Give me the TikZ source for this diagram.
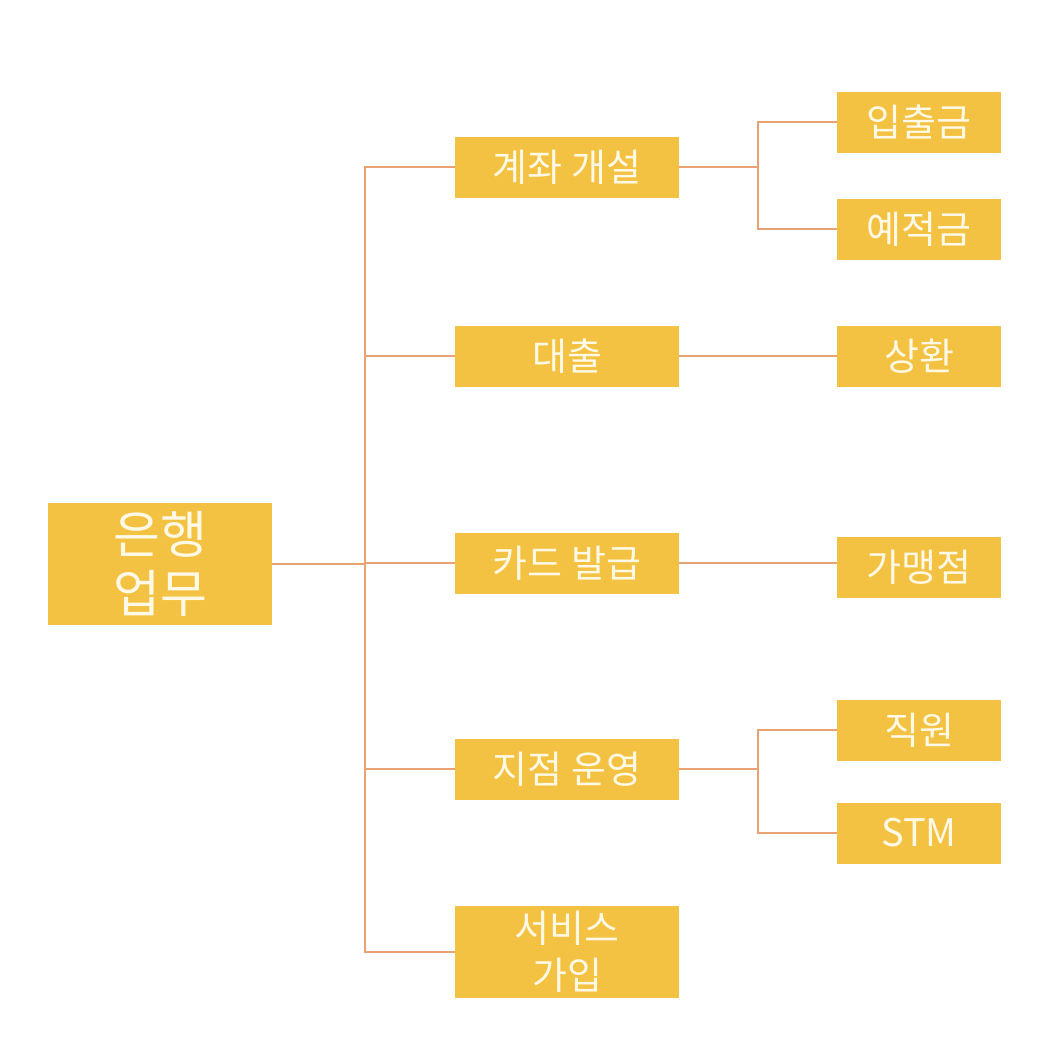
\documentclass[tikz,border=0pt]{standalone}
\usepackage{fontspec}
\setmainfont{Noto Sans CJK KR}
\usetikzlibrary{positioning}
\definecolor{boxfill}{HTML}{F4C242}
\definecolor{linkline}{HTML}{E9A274}
\definecolor{boxtext}{HTML}{FFF9E6}

\begin{document}
\begin{tikzpicture}[x=1pt, y=-1pt,
    task/.style={fill=boxfill, draw=none, text=boxtext, minimum width=224pt,
      minimum height=61pt, inner sep=0pt, font=\fontsize{38}{47}\selectfont, align=center},
    leaf/.style={task, minimum width=164pt},
    link/.style={draw=linkline, line width=2pt}]
  \useasboundingbox (0,0) rectangle (1058,1050);
  % root
  \node[task, minimum height=122pt, font=\fontsize{51}{59}\selectfont] (root) at (160,564) {은행\\업무};
  % second level
  \node[task] (acct) at (567,167) {계좌 개설};
  \node[task] (loan) at (567,356) {대출};
  \node[task] (card) at (567,563) {카드 발급};
  \node[task] (branch) at (567,769) {지점 운영};
  \node[task, minimum height=92pt] (serv) at (567,952) {서비스\\가입};
  % third level
  \node[leaf] (inout) at (919,122) {입출금};
  \node[leaf] (deposit) at (919,229) {예적금};
  \node[leaf] (repay) at (919,356) {상환};
  \node[leaf] (merchant) at (919,567) {가맹점};
  \node[leaf] (staff) at (919,730) {직원};
  \node[leaf] (stm) at (919,833) {STM};
  % connectors
  \coordinate (j1) at (365,564);
  \coordinate (j2) at (758,167);
  \coordinate (j3) at (758,769);
  \draw[link] (root.east) -- (j1);
  \foreach \n in {acct, loan, card, branch, serv}
    \draw[link] (j1) |- (\n.west);
  \draw[link] (acct.east) -- (j2);
  \foreach \n in {inout, deposit}
    \draw[link] (j2) |- (\n.west);
  \draw[link] (loan.east) -- (repay.west);
  \draw[link] (card.east) -- (card.east -| merchant.west);
  \draw[link] (branch.east) -- (j3);
  \foreach \n in {staff, stm}
    \draw[link] (j3) |- (\n.west);
\end{tikzpicture}
\end{document}
